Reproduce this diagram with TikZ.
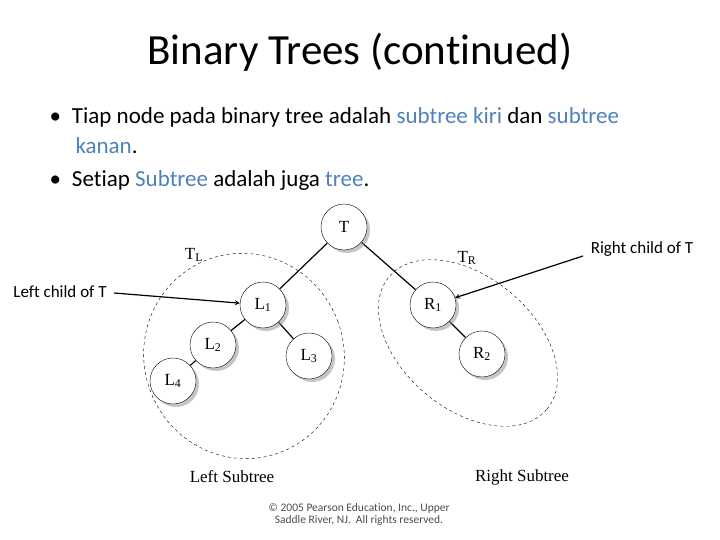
\documentclass[tikz,border=0pt]{standalone}
\usepackage{fontspec}
\setmainfont[Ligatures=NoCommon]{Carlito}
\newfontfamily\treefont{Liberation Serif}
\usetikzlibrary{shadows,backgrounds}
\definecolor{keyblue}{RGB}{79,129,189}
\tikzset{
  treenode/.style={circle,draw,fill=white,minimum size=46pt,inner sep=0pt,font=\treefont\fontsize{17}{17}\selectfont,
    drop shadow={shadow xshift=3pt,shadow yshift=-3pt,fill=black!45}},
  subtree/.style={draw,dashed,thin},
  pointer/.style={draw,line width=1.2pt,->,>=stealth}
}
\begin{document}
\begin{tikzpicture}[x=1pt,y=-1pt]
  \useasboundingbox (0,0) rectangle (720,540);
  \node at (360,52) {\fontsize{43}{48}\selectfont Binary Trees (continued)};
  \node[anchor=west] at (46,117) {\fontsize{23}{28}\selectfont\textbullet\hspace{11pt}Tiap node pada binary tree adalah \textcolor{keyblue}{subtree kiri} dan \textcolor{keyblue}{subtree}};
  \node[anchor=west] at (72,146) {\fontsize{23}{28}\selectfont\textcolor{keyblue}{kanan}.};
  \node[anchor=west] at (46,180) {\fontsize{23}{28}\selectfont\textbullet\hspace{11pt}Setiap \textcolor{keyblue}{Subtree} adalah juga \textcolor{keyblue}{tree}.};
  % subtree outlines
  \draw[subtree,rotate around={20:(244,356)}] (244,356) ellipse [x radius=100pt,y radius=103pt];
  \draw[subtree,rotate around={-40:(468,343)}] (468,343) ellipse [x radius=103pt,y radius=66pt];
  % tree
  \node[treenode] (t) at (344,227) {T};
  \node[treenode] (l1) at (263,305) {L\textsubscript{1}};
  \node[treenode] (l2) at (213,345) {L\textsubscript{2}};
  \node[treenode] (l3) at (309,356) {L\textsubscript{3}};
  \node[treenode] (l4) at (173,381) {L\textsubscript{4}};
  \node[treenode] (r1) at (433,305) {R\textsubscript{1}};
  \node[treenode] (r2) at (482,354) {R\textsubscript{2}};
  \begin{scope}[on background layer]
    \draw[line width=1.2pt] (t) -- (l1) (l1) -- (l2) (l1) -- (l3) (l2) -- (l4) (t) -- (r1) (r1) -- (r2);
  \end{scope}
  \node (tl) at (194,255) {\treefont\fontsize{17}{17}\selectfont T\textsubscript{L}};
  \node (tr) at (467,258) {\treefont\fontsize{17}{17}\selectfont T\textsubscript{R}};
  \node (lsub) at (232,477) {\treefont\fontsize{17}{17}\selectfont Left Subtree};
  \node (rsub) at (522,477) {\treefont\fontsize{17}{17}\selectfont Right Subtree};
  % pointers
  \node (rchild) at (642,249) {\fontsize{17}{17}\selectfont Right child of T};
  \node (lchild) at (60,292) {\fontsize{17}{17}\selectfont Left child of T};
  \coordinate (rtail) at (583,256);
  \coordinate (ltail) at (114,293);
  \draw[pointer] (rtail) -- (r1);
  \draw[pointer] (ltail) -- (l1);
  \node[text=black!70,align=center] (copy) at (359,514) {\fontsize{11.5}{15}\selectfont © 2005 Pearson Education, Inc., Upper\\\fontsize{11.5}{15}\selectfont Saddle River, NJ.\ \ All rights reserved.};
\end{tikzpicture}
\end{document}
